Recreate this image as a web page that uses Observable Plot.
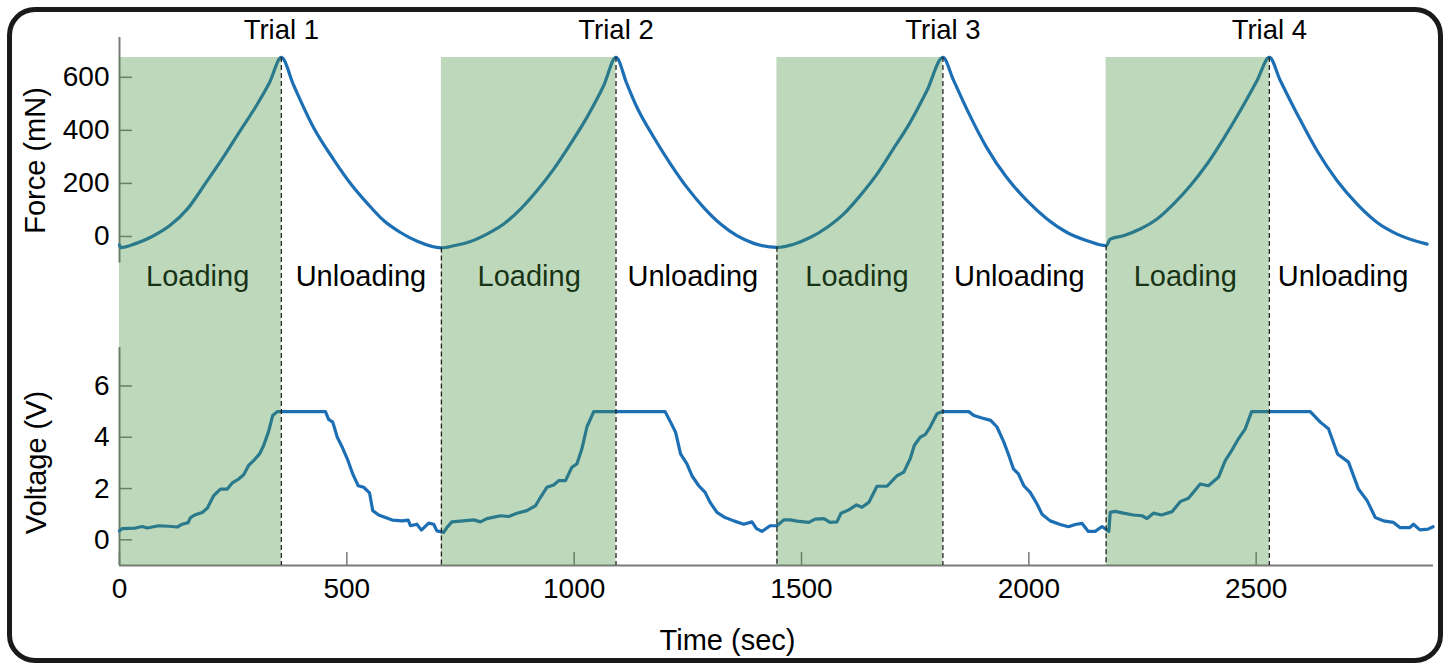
<!DOCTYPE html>
<html><head><meta charset="utf-8">
<script src="https://cdn.jsdelivr.net/npm/d3@7"></script>
<script src="https://cdn.jsdelivr.net/npm/@observablehq/plot@0.6"></script>
<style>
html,body{margin:0;padding:0;background:#fff;}
#wrap{position:relative;width:1445px;height:664px;overflow:hidden;background:#fff;}
#wrap svg{position:absolute;left:0;top:0;}
#border{position:absolute;left:7px;top:7px;width:1436px;height:656px;box-sizing:border-box;border:5px solid #1a1a1a;border-radius:28px;pointer-events:none;z-index:5;}
</style></head><body>
<div id="wrap"></div>
<script>
// ---------- data ----------
const xTicks = [0, 500, 1000, 1500, 2000, 2500];
const forceTicks = [0, 200, 400, 600];
const voltageTicks = [0, 2, 4, 6];

const forceTime = [0,3,35,72,110,150,189,228,266,300,330,356,
  383,427,471,508,545,581,618,655,708,
  735,772,808,845,882,918,955,992,1028,1065,1092,
  1116,1138,1175,1212,1248,1285,1322,1358,1395,1446,
  1483,1519,1556,1593,1629,1666,1702,1739,1776,1811,
  1834,1863,1907,1951,1996,2040,2084,2128,2170,
  2179,2208,2245,2282,2318,2355,2392,2428,2465,2502,2529,
  2553,2590,2634,2678,2722,2766,2810,2876];
const forceValue = [-32,-42,-27,0,40,105,200,298,400,490,580,675,
  570,410,290,200,125,60,15,-18,-43,
  -35,-19,9,47,103,172,254,349,449,569,675,
  575,487,374,273,185,109,47,3,-26,-41,
  -29,-4,34,85,154,235,330,430,550,675,
  590,482,336,223,135,66,15,-16,-35,
  -10,3,28,66,122,191,273,368,474,588,675,
  588,462,323,210,122,53,9,-29];

const voltageTime = [0,6,35,50,61,86,108,127,138,151,156,167,182,193,207,222,237,248,262,273,284,295,308,317,328,337,347,
  453,460,469,479,490,501,513,525,537,550,557,570,585,600,622,635,640,654,664,680,691,698,713,
  720,731,750,779,794,808,838,856,874,896,915,926,940,955,966,981,995,1006,1017,1028,1043,
  1200,1212,1223,1234,1248,1259,1274,1288,1299,1314,1332,1351,1373,1391,1401,1413,1431,1446,
  1461,1475,1490,1516,1530,1549,1563,1578,1587,1604,1621,1633,1648,1666,1688,1710,1725,1739,1748,1761,1772,1783,1798,1809,
  1868,1879,1897,1916,1930,1945,1956,1966,1977,1989,2003,2018,2029,2047,2069,2087,2102,2117,2131,2146,2161,2170,2176,
  2179,2190,2208,2230,2249,2260,2274,2292,2315,2333,2351,2377,2395,2417,2432,2446,2461,2476,2490,
  2619,2641,2659,2679,2703,2725,2744,2762,2780,2802,2816,2838,2846,2860,2878,2889];
const voltageValue = [0.35,0.44,0.46,0.52,0.46,0.55,0.53,0.50,0.61,0.67,0.87,0.98,1.07,1.23,1.72,1.98,1.98,2.22,2.37,2.54,2.90,3.09,3.35,3.68,4.23,4.85,5.0,
  5.0,4.70,4.59,4.0,3.61,3.16,2.57,2.11,2.05,1.83,1.14,0.97,0.87,0.77,0.74,0.77,0.55,0.61,0.38,0.65,0.61,0.35,0.29,
  0.48,0.70,0.73,0.78,0.70,0.83,0.94,0.91,1.04,1.14,1.33,1.66,2.05,2.14,2.31,2.31,2.83,2.96,3.55,4.40,5.0,
  5.0,4.59,4.20,3.35,2.96,2.50,2.11,1.85,1.46,1.07,0.87,0.74,0.61,0.70,0.44,0.33,0.55,0.55,
  0.78,0.78,0.73,0.68,0.81,0.83,0.68,0.70,1.04,1.17,1.36,1.27,1.46,2.09,2.09,2.50,2.64,3.16,3.68,4.0,4.10,4.40,4.92,5.0,
  5.0,4.85,4.75,4.66,4.40,3.81,3.29,2.77,2.57,2.11,1.85,1.40,1.0,0.74,0.60,0.51,0.60,0.64,0.33,0.33,0.52,0.40,0.33,
  1.07,1.11,1.04,0.97,0.94,0.83,1.04,0.97,1.10,1.49,1.62,2.18,2.11,2.44,3.09,3.48,3.94,4.33,5.0,
  5.0,4.59,4.33,3.35,3.03,1.98,1.53,0.87,0.74,0.68,0.48,0.48,0.61,0.39,0.42,0.51];

const loadStart = [0, 708, 1446, 2170];
const loadEnd = [356, 1092, 1811, 2529];
const boundaryTime = [356, 708, 1092, 1446, 1811, 2170, 2529];
const boundaryForce = [675, -43, 675, -41, 675, -35, 675];
const trialNames = ["Trial 1", "Trial 2", "Trial 3", "Trial 4"];
const trialTime = [356, 1092, 1811, 2529];
const phaseNames = ["Loading","Unloading","Loading","Unloading","Loading","Unloading","Loading","Unloading"];
const phaseTime = [172, 531, 901, 1261, 1622, 1979, 2344, 2691];

const xDomain = [0, 2890];
const forceDomain = [-100, 750];
const voltageDomain = [-1, 7.5];

// ---------- tables ----------
const forceData = forceTime.map((t, i) => ({t, f: forceValue[i]}));
const voltageData = voltageTime.map((t, i) => ({t, v: voltageValue[i]}));
const loads = loadStart.map((s, i) => ({s, e: loadEnd[i]}));
const bounds = boundaryTime.map((t, i) => ({t, f: boundaryForce[i]}));
const trials = trialNames.map((n, i) => ({n, t: trialTime[i]}));
const phases = phaseNames.map((n, i) => ({n, t: phaseTime[i]}));

const FONT = "'Liberation Sans', Arial, Helvetica, sans-serif";
const BLUE = "#1c6fb4";
const GRAY = "#7a7a7a";
const W = 1445, H = 664;
const ML = 119, MR = 12, MB = 99;
const FORCE_TOP = 37, FORCE_BOTTOM = 262.5, FRAME_BOTTOM = H - MB;
const fmt = d => String(d);

// ---------- voltage panel (bottom layer) ----------
const voltagePlot = Plot.plot({
  width: W, height: H,
  marginLeft: ML, marginRight: MR, marginTop: 347, marginBottom: MB,
  style: {background: "transparent", fontFamily: FONT, fontSize: "28px", color: "#000"},
  x: {domain: xDomain},
  y: {domain: voltageDomain},
  marks: [
    Plot.ruleX([0], {y1: voltageDomain[0], y2: voltageDomain[1], stroke: GRAY, strokeWidth: 2}),
    Plot.ruleY([voltageDomain[0]], {x1: xDomain[0], x2: xDomain[1], stroke: GRAY, strokeWidth: 2}),
    Plot.axisY(voltageTicks, {tickSize: -13, tickPadding: 23, stroke: GRAY, strokeWidth: 1.5, label: null, tickFormat: fmt, fontSize: 28}),
    Plot.axisX(xTicks, {tickSize: -13, tickPadding: 26, stroke: GRAY, strokeWidth: 1.5, label: null, tickFormat: fmt, fontSize: 28}),
    Plot.line(voltageData, {x: "t", y: "v", stroke: BLUE, strokeWidth: 3.2, strokeLinejoin: "round"}),
    Plot.text(["Voltage (V)"], {text: d => d, frameAnchor: "left", textAnchor: "middle", lineAnchor: "middle", rotate: -90, dx: -83, dy: 6, fontSize: 29, fill: "#000"}),
    Plot.text(["Time (sec)"], {text: d => d, frameAnchor: "bottom", textAnchor: "middle", lineAnchor: "middle", dx: -49, dy: 75, fontSize: 29, fill: "#000"})
  ]
});

// ---------- force panel (top layer, with shading overlay) ----------
const forcePlot = Plot.plot({
  width: W, height: H,
  marginLeft: ML, marginRight: MR, marginTop: 57, marginBottom: MB,
  style: {background: "transparent", fontFamily: FONT, fontSize: "28px", color: "#000"},
  x: {domain: xDomain, axis: null},
  y: {domain: forceDomain, range: [FORCE_BOTTOM, FORCE_TOP]},
  marks: [
    Plot.ruleX([0], {y1: forceDomain[0], y2: forceDomain[1], stroke: GRAY, strokeWidth: 2}),
    Plot.axisY(forceTicks, {tickSize: -13, tickPadding: 23, stroke: GRAY, strokeWidth: 1.5, label: null, tickFormat: fmt, fontSize: 28}),
    Plot.line(forceData, {x: "t", y: "f", stroke: BLUE, strokeWidth: 3.2, curve: "monotone-x"}),
    Plot.text(trials, {x: "t", text: "n", frameAnchor: "top", lineAnchor: "middle", dy: -27, fontSize: 27.5, fill: "#000"}),
    Plot.text(phases, {x: "t", text: "n", frameAnchor: "top", lineAnchor: "middle", dy: 219, fontSize: 29, fill: "#000"}),
    Plot.text(["Force (mN)"], {text: d => d, frameAnchor: "left", textAnchor: "middle", lineAnchor: "middle", rotate: -90, dx: -84, dy: -151, fontSize: 29, fill: "#000"}),
    Plot.rect(loads, {x1: "s", x2: "e", fill: "rgb(69,144,64)", fillOpacity: 0.35}),
    Plot.ruleX(bounds, {x: "t", y1: "f", y2: forceDomain[0], insetBottom: FORCE_BOTTOM - FRAME_BOTTOM, stroke: "#222", strokeWidth: 1.3, strokeDasharray: "5,3"})
  ]
});

const wrap = document.getElementById("wrap");
wrap.appendChild(voltagePlot);
wrap.appendChild(forcePlot);
const border = document.createElement("div");
border.id = "border";
wrap.appendChild(border);
</script>
</body></html>
